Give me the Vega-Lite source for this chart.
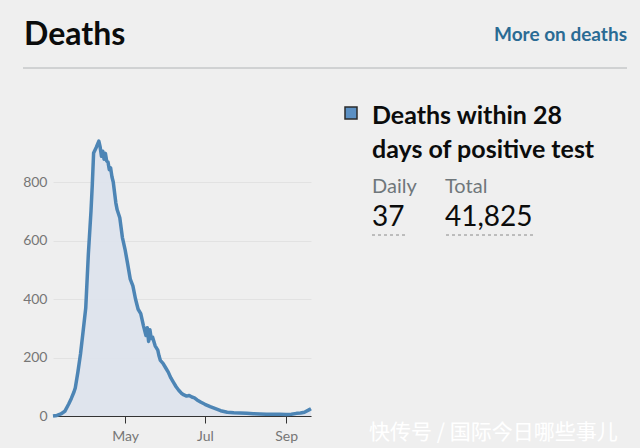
{
  "$schema": "https://vega.github.io/schema/vega-lite/v6.json",
  "background": "#efefef",
  "padding": {"left": 22, "top": 0, "right": 14, "bottom": 4},
  "config": {"view": {"stroke": null}, "font": "Lato"},
  "datasets": {
    "deaths": [
      {"date": "2020-03-07", "value": 0},
      {"date": "2020-03-10", "value": 2},
      {"date": "2020-03-13", "value": 7},
      {"date": "2020-03-16", "value": 16},
      {"date": "2020-03-19", "value": 41},
      {"date": "2020-03-21", "value": 60},
      {"date": "2020-03-23", "value": 82},
      {"date": "2020-03-24", "value": 96},
      {"date": "2020-03-26", "value": 150},
      {"date": "2020-03-28", "value": 212},
      {"date": "2020-03-30", "value": 290},
      {"date": "2020-04-01", "value": 369},
      {"date": "2020-04-03", "value": 554},
      {"date": "2020-04-05", "value": 700},
      {"date": "2020-04-06", "value": 790},
      {"date": "2020-04-07", "value": 899},
      {"date": "2020-04-09", "value": 918},
      {"date": "2020-04-11", "value": 940},
      {"date": "2020-04-12", "value": 920},
      {"date": "2020-04-13", "value": 888},
      {"date": "2020-04-14", "value": 905},
      {"date": "2020-04-15", "value": 878},
      {"date": "2020-04-16", "value": 898},
      {"date": "2020-04-17", "value": 872},
      {"date": "2020-04-18", "value": 868},
      {"date": "2020-04-19", "value": 842},
      {"date": "2020-04-20", "value": 848},
      {"date": "2020-04-21", "value": 818},
      {"date": "2020-04-22", "value": 800},
      {"date": "2020-04-24", "value": 728},
      {"date": "2020-04-25", "value": 705},
      {"date": "2020-04-27", "value": 678},
      {"date": "2020-04-29", "value": 610},
      {"date": "2020-05-01", "value": 570},
      {"date": "2020-05-03", "value": 520},
      {"date": "2020-05-05", "value": 468},
      {"date": "2020-05-07", "value": 445},
      {"date": "2020-05-09", "value": 400},
      {"date": "2020-05-11", "value": 365},
      {"date": "2020-05-13", "value": 350},
      {"date": "2020-05-15", "value": 310},
      {"date": "2020-05-17", "value": 275},
      {"date": "2020-05-18", "value": 302},
      {"date": "2020-05-19", "value": 255},
      {"date": "2020-05-20", "value": 295},
      {"date": "2020-05-21", "value": 265},
      {"date": "2020-05-22", "value": 270},
      {"date": "2020-05-24", "value": 240},
      {"date": "2020-05-26", "value": 225},
      {"date": "2020-05-27", "value": 205},
      {"date": "2020-05-28", "value": 190},
      {"date": "2020-05-30", "value": 180},
      {"date": "2020-06-01", "value": 165},
      {"date": "2020-06-03", "value": 150},
      {"date": "2020-06-05", "value": 130},
      {"date": "2020-06-07", "value": 115},
      {"date": "2020-06-09", "value": 100},
      {"date": "2020-06-11", "value": 88},
      {"date": "2020-06-13", "value": 78},
      {"date": "2020-06-15", "value": 72},
      {"date": "2020-06-17", "value": 68},
      {"date": "2020-06-19", "value": 70},
      {"date": "2020-06-21", "value": 65},
      {"date": "2020-06-23", "value": 62},
      {"date": "2020-06-25", "value": 55},
      {"date": "2020-06-28", "value": 47},
      {"date": "2020-07-01", "value": 40},
      {"date": "2020-07-05", "value": 32},
      {"date": "2020-07-09", "value": 25},
      {"date": "2020-07-13", "value": 18},
      {"date": "2020-07-18", "value": 13},
      {"date": "2020-07-23", "value": 11},
      {"date": "2020-07-28", "value": 10},
      {"date": "2020-08-02", "value": 9},
      {"date": "2020-08-07", "value": 8},
      {"date": "2020-08-12", "value": 7},
      {"date": "2020-08-17", "value": 6},
      {"date": "2020-08-22", "value": 6},
      {"date": "2020-08-27", "value": 6},
      {"date": "2020-09-01", "value": 5},
      {"date": "2020-09-05", "value": 6},
      {"date": "2020-09-09", "value": 9},
      {"date": "2020-09-12", "value": 10},
      {"date": "2020-09-15", "value": 13},
      {"date": "2020-09-18", "value": 20},
      {"date": "2020-09-20", "value": 25}
    ],
    "stats": [
      {"metric": "Daily", "value": 37},
      {"metric": "Total", "value": 41825}
    ]
  },
  "spacing": 20,
  "vconcat": [
    {
      "width": 574,
      "height": 68,
      "data": {"values": [{"heading": "Deaths", "link": "More on deaths"}]},
      "layer": [
        {
          "mark": {"type": "text", "align": "left", "baseline": "alphabetic", "fontSize": 32, "fontWeight": "bold", "color": "#0b0c0c"},
          "encoding": {
            "text": {"field": "heading"},
            "x": {"datum": -29, "type": "quantitative", "scale": {"domain": [0, 574], "nice": false, "zero": false}, "axis": null},
            "y": {"datum": 45, "type": "quantitative", "scale": {"domain": [0, 68], "reverse": true, "nice": false}, "axis": null}
          }
        },
        {
          "mark": {"type": "text", "align": "right", "baseline": "alphabetic", "fontSize": 19, "fontWeight": "bold", "color": "#2a6b94"},
          "encoding": {
            "text": {"field": "link"},
            "x": {"datum": 574, "type": "quantitative"},
            "y": {"datum": 41, "type": "quantitative"}
          }
        },
        {
          "mark": {"type": "rule", "color": "#b1b4b6", "strokeWidth": 1},
          "encoding": {
            "x": {"datum": -30, "type": "quantitative"},
            "x2": {"datum": 574},
            "y": {"datum": 68, "type": "quantitative"}
          }
        }
      ]
    },
    {
      "spacing": 29,
      "hconcat": [
        {
          "width": 258,
          "height": 327,
          "data": {"name": "deaths"},
          "encoding": {
            "x": {"field": "date", "type": "temporal",
                  "scale": {"type": "utc", "domain": ["2020-03-07", "2020-09-20"]},
                  "axis": {"values": ["2020-05-01", "2020-07-01", "2020-09-01"], "labelExpr": "utcFormat(datum.value, '%b')", "title": null, "grid": false,
                           "domainColor": "#333333", "tickColor": "#333333", "tickSize": 7, "labelPadding": 6, "labelColor": "#767676", "labelFontSize": 14}},
            "y": {"field": "value", "type": "quantitative",
                  "scale": {"domain": [0, 1118], "nice": false},
                  "axis": {"values": [0, 200, 400, 600, 800], "title": null, "domain": false, "ticks": false, "labelPadding": 6,
                           "labelColor": "#767676", "labelFontSize": 14, "gridColor": "#e2e2e2", "gridWidth": 1}}
          },
          "layer": [
            {"mark": {"type": "area", "color": "#dde3ec", "opacity": 0.95}},
            {"mark": {"type": "line", "color": "#4d85b5", "strokeWidth": 3.5, "strokeJoin": "round"}}
          ]
        },
        {
          "width": 280,
          "height": 327,
          "data": {"values": [{}]},
          "layer": [
            {
              "mark": {"type": "point", "shape": "square", "size": 144, "filled": true, "fill": "#5b90c4", "stroke": "#2b2b2b", "strokeWidth": 1.5, "opacity": 1},
              "encoding": {
                "x": {"datum": 6, "type": "quantitative", "scale": {"domain": [0, 280], "nice": false, "zero": false}, "axis": null},
                "y": {"datum": 24, "type": "quantitative", "scale": {"domain": [0, 327], "reverse": true, "nice": false}, "axis": null}
              }
            },
            {
              "mark": {"type": "text", "align": "left", "baseline": "alphabetic", "fontSize": 25, "fontWeight": "bold", "color": "#0b0c0c", "lineHeight": 34,
                       "text": ["Deaths within 28", "days of positive test"]},
              "encoding": {
                "x": {"datum": 27, "type": "quantitative"},
                "y": {"datum": 35, "type": "quantitative"}
              }
            },
            {
              "data": {"name": "stats"},
              "transform": [{"filter": "datum.metric === 'Daily'"}],
              "layer": [
                {
                  "mark": {"type": "text", "align": "left", "baseline": "alphabetic", "fontSize": 20, "color": "#6f777b"},
                  "encoding": {"text": {"field": "metric"}, "x": {"datum": 27, "type": "quantitative"}, "y": {"datum": 104, "type": "quantitative"}}
                },
                {
                  "mark": {"type": "text", "align": "left", "baseline": "alphabetic", "fontSize": 28, "color": "#0b0c0c"},
                  "encoding": {"text": {"field": "value", "format": ","}, "x": {"datum": 27, "type": "quantitative"}, "y": {"datum": 137, "type": "quantitative"}}
                },
                {
                  "mark": {"type": "rule", "color": "#8a8a8a", "strokeWidth": 1, "strokeDash": [3, 3]},
                  "encoding": {"x": {"datum": 27, "type": "quantitative"}, "x2": {"datum": 60}, "y": {"datum": 146, "type": "quantitative"}}
                }
              ]
            },
            {
              "data": {"name": "stats"},
              "transform": [{"filter": "datum.metric === 'Total'"}],
              "layer": [
                {
                  "mark": {"type": "text", "align": "left", "baseline": "alphabetic", "fontSize": 20, "color": "#6f777b"},
                  "encoding": {"text": {"field": "metric"}, "x": {"datum": 100, "type": "quantitative"}, "y": {"datum": 104, "type": "quantitative"}}
                },
                {
                  "mark": {"type": "text", "align": "left", "baseline": "alphabetic", "fontSize": 28, "color": "#0b0c0c"},
                  "encoding": {"text": {"field": "value", "format": ","}, "x": {"datum": 100, "type": "quantitative"}, "y": {"datum": 137, "type": "quantitative"}}
                },
                {
                  "mark": {"type": "rule", "color": "#8a8a8a", "strokeWidth": 1, "strokeDash": [3, 3]},
                  "encoding": {"x": {"datum": 101, "type": "quantitative"}, "x2": {"datum": 191}, "y": {"datum": 146, "type": "quantitative"}}
                }
              ]
            },
            {
              "mark": {"type": "text", "align": "left", "baseline": "alphabetic", "fontSize": 21, "color": "#ffffff", "font": "Noto Sans CJK SC",
                       "text": "快传号 / 国际今日哪些事儿"},
              "encoding": {
                "x": {"datum": 24, "type": "quantitative"},
                "y": {"datum": 350, "type": "quantitative"}
              }
            }
          ]
        }
      ]
    }
  ]
}
